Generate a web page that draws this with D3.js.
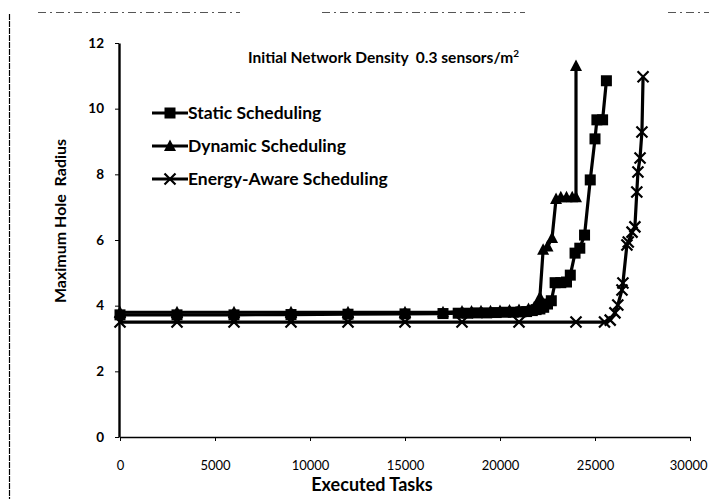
<!DOCTYPE html>
<html><head><meta charset="utf-8">
<script src="https://cdn.jsdelivr.net/npm/d3@7/dist/d3.min.js"></script>
<style>
html,body{margin:0;padding:0;background:#fff;}
svg{display:block;}
text{font-family:Lato,"Open Sans",sans-serif;fill:#000;white-space:pre;}
</style></head>
<body>
<script>
const xTicks = [0,5000,10000,15000,20000,25000,30000];
const yTicks = [0,2,4,6,8,10,12];
const seriesNames = ["Static Scheduling","Dynamic Scheduling","Energy-Aware Scheduling"];
const staticData = [[0,3.72],[3000,3.72],[6000,3.72],[9000,3.73],[12000,3.74],[15000,3.75],[17000,3.76],[17800,3.77],[18300,3.77],[18800,3.78],[19300,3.78],[19800,3.79],[20300,3.8],[20700,3.8],[21100,3.81],[21400,3.82],[21700,3.85],[21900,3.88],[22100,3.9],[22300,3.95],[22500,4.05],[22700,4.15],[22900,4.7],[23200,4.7],[23500,4.72],[23700,4.93],[23950,5.6],[24200,5.75],[24450,6.15],[24750,7.83],[25000,9.08],[25100,9.66],[25400,9.66],[25600,10.85]];
const dynamicData = [[0,3.8],[3000,3.8],[6000,3.8],[9000,3.8],[12000,3.8],[15000,3.8],[17000,3.8],[18000,3.82],[18500,3.82],[19000,3.83],[19500,3.83],[20000,3.84],[20500,3.85],[21000,3.87],[21500,3.9],[21800,3.95],[22000,4.1],[22100,4.26],[22270,5.7],[22500,5.8],[22740,6.06],[22950,7.25],[23200,7.3],[23500,7.3],[23800,7.3],[24000,7.3],[24000,11.3]];
const energyData = [[0,3.5],[3000,3.5],[6000,3.5],[9000,3.5],[12000,3.5],[15000,3.5],[18000,3.5],[21000,3.5],[24000,3.5],[25500,3.5],[25800,3.56],[26050,3.78],[26200,4.02],[26420,4.48],[26470,4.69],[26680,5.85],[26750,5.94],[26950,6.24],[27100,6.4],[27200,7.46],[27260,8.07],[27370,8.5],[27470,9.29],[27530,10.97]];
const titleText = "Initial Network Density  0.3 sensors/m";
const xTitle = "Executed Tasks";
const yTitle = "Maximum Hole  Radius";

const W=709,H=499;
const svg=d3.select("body").append("svg").attr("width",W).attr("height",H);

// page frame fragments
svg.append("line").attr("x1",9.5).attr("x2",9.5).attr("y1",14).attr("y2",499)
  .attr("stroke","#000").attr("stroke-width",1.2).attr("stroke-dasharray","6,1");
[[38,240],[322,525],[668,709]].forEach(s=>{
  svg.append("line").attr("x1",s[0]).attr("x2",s[1]).attr("y1",12.5).attr("y2",12.5)
    .attr("stroke","#555").attr("stroke-width",1).attr("stroke-dasharray","8,4,2,4");
});

const x=d3.scaleLinear().domain([0,30000]).range([120,690]);
const y=d3.scaleLinear().domain([0,12]).range([437,43]);

// axes
const xAxis=svg.append("g").attr("transform","translate(0,437)")
  .call(d3.axisBottom(x).tickValues(xTicks).tickSize(4).tickSizeOuter(0).tickFormat(d3.format("d")));
xAxis.select(".domain").attr("stroke","#000").attr("stroke-width",1.3);
xAxis.selectAll(".tick line").attr("stroke","#000");
xAxis.selectAll(".tick text").attr("dy",0).attr("y",33).style("font-size","13px").style("font-family","Lato,sans-serif");
xAxis.selectAll(".tick text").filter(d=>d===30000).attr("text-anchor","end").attr("x",17);

const yAxis=svg.append("g").attr("transform","translate(119,0)")
  .call(d3.axisLeft(y).tickValues(yTicks).tickSize(4).tickSizeOuter(0).tickFormat(d3.format("d")));
yAxis.select(".domain").attr("stroke","#000").attr("stroke-width",2.4);
yAxis.selectAll(".tick line").attr("stroke","#000");
yAxis.selectAll(".tick text").attr("x",-15).style("font-size","13.5px").style("font-weight","bold").style("font-family","Lato,sans-serif");

const line=d3.line().x(d=>x(d[0])).y(d=>y(d[1]));

function square(g,cx,cy){g.append("rect").attr("x",cx-5.5).attr("y",cy-5.5).attr("width",11).attr("height",11).attr("fill","#000");}
function tri(g,cx,cy){g.append("path").attr("d",`M${cx},${cy-6.5}L${cx+6},${cy+5}L${cx-6},${cy+5}Z`).attr("fill","#000");}
function cross(g,cx,cy){g.append("path").attr("d",`M${cx-5.5},${cy-5.5}L${cx+5.5},${cy+5.5}M${cx+5.5},${cy-5.5}L${cx-5.5},${cy+5.5}`).attr("stroke","#000").attr("stroke-width",2.2);}

const series=[
  {name:seriesNames[0],data:staticData,mark:square},
  {name:seriesNames[1],data:dynamicData,mark:tri},
  {name:seriesNames[2],data:energyData,mark:cross}
];
[series[2],series[0],series[1]].forEach(s=>{
  const g=svg.append("g");
  g.append("path").datum(s.data).attr("d",line).attr("fill","none").attr("stroke","#000").attr("stroke-width",3.2);
  s.data.forEach(d=>s.mark(g,x(d[0]),y(d[1])));
});

// title
const t=svg.append("text").attr("x",248).attr("y",63).style("font-size","15.5px").style("font-weight","bold").text(titleText);
t.append("tspan").attr("dy",-6).style("font-size","10px").text("2");

// legend
const legY=[113,146,179];
series.forEach((s,i)=>{
  const g=svg.append("g");
  g.append("line").attr("x1",152).attr("x2",188).attr("y1",legY[i]).attr("y2",legY[i]).attr("stroke","#000").attr("stroke-width",3.2);
  s.mark(g,170,legY[i]);
  g.append("text").attr("x",188).attr("y",legY[i]+6).style("font-size","17.5px").style("font-weight","bold").text(s.name);
});

// axis titles
svg.append("text").attr("x",372).attr("y",491).attr("text-anchor","middle").style("font-size","18px").style("font-weight","bold").text(xTitle);
svg.append("text").attr("transform","translate(66,221) rotate(-90)").attr("text-anchor","middle").style("font-size","16px").style("font-weight","bold").text(yTitle);
</script>
</body></html>
